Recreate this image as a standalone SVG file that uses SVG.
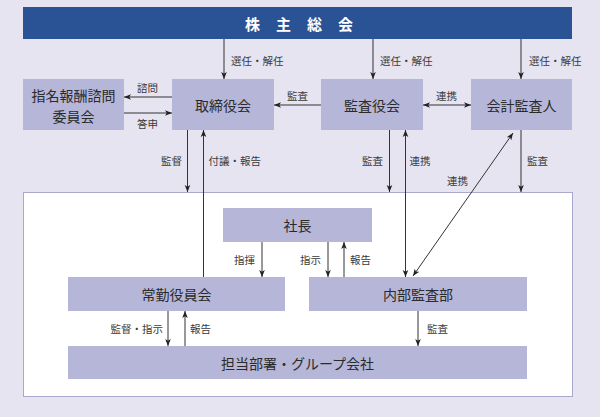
<svg xmlns="http://www.w3.org/2000/svg" width="600" height="417" viewBox="0 0 600 417">
<defs>
<marker id="ah" viewBox="0 0 10 10" refX="10" refY="5" markerWidth="7" markerHeight="7" orient="auto-start-reverse" markerUnits="userSpaceOnUse">
<path d="M0,1 L10,5 L0,9 L2.5,5 z" fill="#222"/>
</marker>
<style>
.box{fill:#b6b6d8}
.t{font-family:"Noto Sans CJK JP","Noto Sans CJK SC",sans-serif;font-size:14px;fill:#2a2a2a;text-anchor:middle;dominant-baseline:central}
.l{font-family:"Noto Sans CJK JP","Noto Sans CJK SC",sans-serif;font-size:10.5px;fill:#3a3a3a;dominant-baseline:central}
.c{stroke:#333;stroke-width:1;fill:none;marker-end:url(#ah)}
.d{stroke:#333;stroke-width:1;fill:none;marker-end:url(#ah);marker-start:url(#ah)}
</style>
</defs>
<rect width="600" height="417" fill="#e6e4f1"/>
<rect x="23.5" y="192.5" width="549" height="204" fill="#fff" stroke="#a9a8cf" stroke-width="1"/>
<g id="shareholders">
<rect x="23" y="7" width="549" height="32" fill="#2a5395"/>
<text x="307" y="23" class="t" style="fill:#fff;font-weight:bold;font-size:15px;letter-spacing:16px">株主総会</text>
</g>
<g id="nomination">
<rect class="box" x="23" y="79" width="101" height="51"/>
<text class="t" x="73.5" y="95">指名報酬諮問</text>
<text class="t" x="73.5" y="115.5">委員会</text>
</g>
<g id="board">
<rect class="box" x="172" y="79" width="102" height="51"/>
<text class="t" x="223" y="105">取締役会</text>
</g>
<g id="auditboard">
<rect class="box" x="321" y="79" width="102" height="51"/>
<text class="t" x="372" y="105">監査役会</text>
</g>
<g id="accountant">
<rect class="box" x="471" y="79" width="101" height="51"/>
<text class="t" x="521.5" y="105">会計監査人</text>
</g>
<g id="president">
<rect class="box" x="223" y="208" width="149" height="34"/>
<text class="t" x="297.5" y="225">社長</text>
</g>
<g id="executive">
<rect class="box" x="68" y="277" width="217" height="34"/>
<text class="t" x="176.5" y="294">常勤役員会</text>
</g>
<g id="internalaudit">
<rect class="box" x="309" y="277" width="218" height="34"/>
<text class="t" x="418" y="294">内部監査部</text>
</g>
<g id="departments">
<rect class="box" x="68" y="346" width="459" height="33"/>
<text class="t" x="297.5" y="362.5">担当部署・グループ会社</text>
</g>
<g id="connectors">
<line class="c" x1="224" y1="39" x2="224" y2="79"/>
<line class="c" x1="373" y1="39" x2="373" y2="79"/>
<line class="c" x1="521" y1="39" x2="521" y2="79"/>
<line class="c" x1="172" y1="97" x2="124" y2="97"/>
<line class="c" x1="124" y1="113" x2="172" y2="113"/>
<line class="c" x1="321" y1="105" x2="274" y2="105"/>
<line class="d" x1="423" y1="105" x2="471" y2="105"/>
<line class="c" x1="187.5" y1="130" x2="187.5" y2="192"/>
<line class="c" x1="203.5" y1="277" x2="203.5" y2="130"/>
<line class="c" x1="389.5" y1="130" x2="389.5" y2="192"/>
<line class="d" x1="405.5" y1="130" x2="405.5" y2="277"/>
<line class="d" x1="513" y1="133" x2="413" y2="276"/>
<line class="c" x1="521" y1="130" x2="521" y2="192"/>
<line class="c" x1="262" y1="242" x2="262" y2="277"/>
<line class="c" x1="328" y1="242" x2="328" y2="277"/>
<line class="c" x1="344" y1="277" x2="344" y2="242"/>
<line class="c" x1="168" y1="311" x2="168" y2="346"/>
<line class="c" x1="185" y1="346" x2="185" y2="311"/>
<line class="c" x1="418" y1="311" x2="418" y2="346"/>
</g>
<g id="labels">
<text class="l" x="231" y="60">選任・解任</text>
<text class="l" x="380" y="60">選任・解任</text>
<text class="l" x="529" y="60">選任・解任</text>
<text class="l" x="137" y="87">諮問</text>
<text class="l" x="137" y="123">答申</text>
<text class="l" x="287" y="95">監査</text>
<text class="l" x="436" y="95">連携</text>
<text class="l" x="182" y="160" text-anchor="end">監督</text>
<text class="l" x="208.5" y="160">付議・報告</text>
<text class="l" x="383" y="160" text-anchor="end">監査</text>
<text class="l" x="409.5" y="160">連携</text>
<text class="l" x="447" y="180">連携</text>
<text class="l" x="527" y="160">監査</text>
<text class="l" x="255" y="259" text-anchor="end">指揮</text>
<text class="l" x="321" y="259" text-anchor="end">指示</text>
<text class="l" x="350" y="259">報告</text>
<text class="l" x="163" y="328" text-anchor="end">監督・指示</text>
<text class="l" x="190" y="328">報告</text>
<text class="l" x="427" y="328">監査</text>
</g>
</svg>
